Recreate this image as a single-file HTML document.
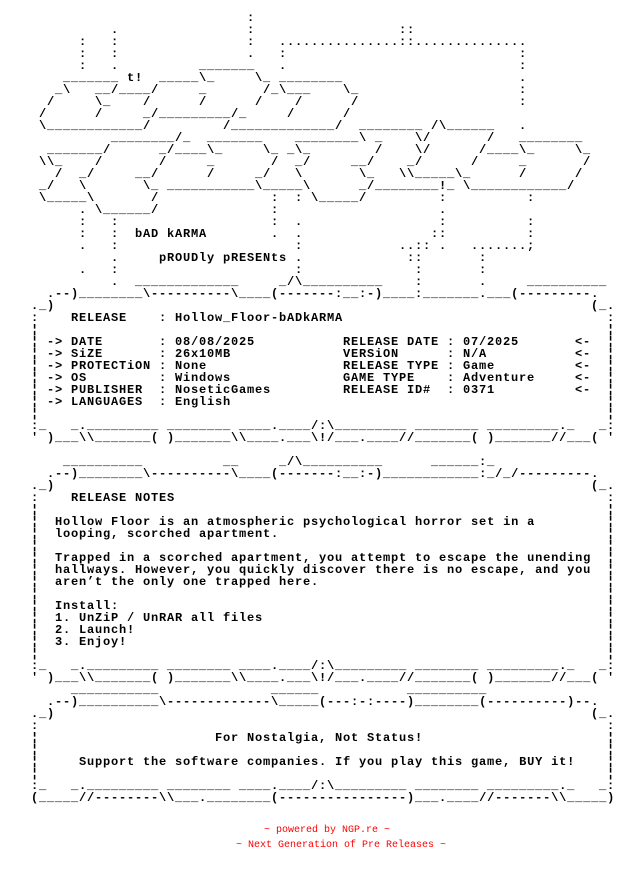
<!DOCTYPE html>
<html><head><meta charset="utf-8"><style>
html,body{margin:0;padding:0;background:#fff;}
#p{position:relative;width:624px;height:876px;overflow:hidden;background:#fff;}
#p i{position:absolute;font-style:normal;white-space:pre;font-family:"Liberation Mono",monospace;font-weight:bold;font-size:12px;line-height:12px;letter-spacing:0.8px;color:#000;}
#p .f{font-weight:normal;font-size:10px;letter-spacing:0;color:#f00;line-height:12px;}
</style></head><body><div id="p">
<i style="left:247px;top:12px">:</i>
<i style="left:111px;top:24px">.</i><i style="left:247px;top:24px">:</i><i style="left:399px;top:24px">::</i>
<i style="left:79px;top:36px">:</i><i style="left:111px;top:36px">:</i><i style="left:247px;top:36px">:</i><i style="left:279px;top:36px">...............::..............</i>
<i style="left:79px;top:48px">:</i><i style="left:111px;top:48px">:</i><i style="left:247px;top:48px">.</i><i style="left:279px;top:48px">:</i><i style="left:519px;top:48px">:</i>
<i style="left:79px;top:60px">:</i><i style="left:111px;top:60px">.</i><i style="left:199px;top:60px">_______</i><i style="left:279px;top:60px">.</i><i style="left:519px;top:60px">:</i>
<i style="left:63px;top:72px">_______</i><i style="left:127px;top:72px">t!</i><i style="left:159px;top:72px">_____\_</i><i style="left:255px;top:72px">\_</i><i style="left:279px;top:72px">________</i><i style="left:519px;top:72px">.</i>
<i style="left:55px;top:84px">_\</i><i style="left:95px;top:84px">__/____/</i><i style="left:199px;top:84px">_</i><i style="left:263px;top:84px">/_\___</i><i style="left:343px;top:84px">\_</i><i style="left:519px;top:84px">:</i>
<i style="left:47px;top:96px">/</i><i style="left:95px;top:96px">\_</i><i style="left:143px;top:96px">/</i><i style="left:199px;top:96px">/</i><i style="left:255px;top:96px">/</i><i style="left:295px;top:96px">/</i><i style="left:351px;top:96px">/</i><i style="left:519px;top:96px">:</i>
<i style="left:39px;top:108px">/</i><i style="left:95px;top:108px">/</i><i style="left:143px;top:108px">_/_________/_</i><i style="left:287px;top:108px">/</i><i style="left:343px;top:108px">/</i>
<i style="left:39px;top:120px">\____________/</i><i style="left:223px;top:120px">/_____________/</i><i style="left:359px;top:120px">________</i><i style="left:431px;top:120px">/\______</i><i style="left:519px;top:120px">.</i>
<i style="left:111px;top:132px">________/_</i><i style="left:207px;top:132px">_______</i><i style="left:295px;top:132px">________\ _</i><i style="left:415px;top:132px">\/</i><i style="left:487px;top:132px">/</i><i style="left:519px;top:132px">________</i>
<i style="left:47px;top:144px">_______/</i><i style="left:159px;top:144px">_/____\_</i><i style="left:263px;top:144px">\_ _\_</i><i style="left:375px;top:144px">/</i><i style="left:415px;top:144px">\/</i><i style="left:479px;top:144px">/____\_</i><i style="left:575px;top:144px">\_</i>
<i style="left:39px;top:156px">\\_</i><i style="left:95px;top:156px">/</i><i style="left:159px;top:156px">/</i><i style="left:207px;top:156px">_</i><i style="left:271px;top:156px">/</i><i style="left:295px;top:156px">_/</i><i style="left:351px;top:156px">__/</i><i style="left:407px;top:156px">_/</i><i style="left:471px;top:156px">/</i><i style="left:519px;top:156px">_</i><i style="left:583px;top:156px">/</i>
<i style="left:55px;top:168px">/</i><i style="left:79px;top:168px">_/</i><i style="left:135px;top:168px">__/</i><i style="left:207px;top:168px">/</i><i style="left:255px;top:168px">_/</i><i style="left:295px;top:168px">\</i><i style="left:359px;top:168px">\_</i><i style="left:399px;top:168px">\\_____\_</i><i style="left:519px;top:168px">/</i><i style="left:575px;top:168px">/</i>
<i style="left:39px;top:180px">_/</i><i style="left:79px;top:180px">\</i><i style="left:143px;top:180px">\_ ___________\_____\</i><i style="left:359px;top:180px">_/________!_ \____________/</i>
<i style="left:39px;top:192px">\_____\</i><i style="left:151px;top:192px">/</i><i style="left:271px;top:192px">:</i><i style="left:295px;top:192px">:</i><i style="left:311px;top:192px">\_____/</i><i style="left:439px;top:192px">:</i><i style="left:527px;top:192px">:</i>
<i style="left:79px;top:204px">.</i><i style="left:95px;top:204px">\______/</i><i style="left:271px;top:204px">:</i><i style="left:439px;top:204px">.</i>
<i style="left:79px;top:216px">:</i><i style="left:111px;top:216px">:</i><i style="left:271px;top:216px">:</i><i style="left:295px;top:216px">.</i><i style="left:439px;top:216px">:</i><i style="left:527px;top:216px">:</i>
<i style="left:79px;top:228px">:</i><i style="left:111px;top:228px">:</i><i style="left:135px;top:228px">bAD kARMA</i><i style="left:271px;top:228px">.</i><i style="left:295px;top:228px">.</i><i style="left:431px;top:228px">::</i><i style="left:527px;top:228px">:</i>
<i style="left:79px;top:240px">.</i><i style="left:111px;top:240px">:</i><i style="left:295px;top:240px">:</i><i style="left:399px;top:240px">..::</i><i style="left:439px;top:240px">.</i><i style="left:471px;top:240px">.....</i><i style="left:511px;top:240px">..;</i>
<i style="left:111px;top:252px">.</i><i style="left:159px;top:252px">pROUDly pRESENts</i><i style="left:295px;top:252px">.</i><i style="left:407px;top:252px">::</i><i style="left:479px;top:252px">:</i>
<i style="left:79px;top:264px">.</i><i style="left:111px;top:264px">:</i><i style="left:295px;top:264px">:</i><i style="left:415px;top:264px">:</i><i style="left:479px;top:264px">:</i>
<i style="left:111px;top:276px">.</i><i style="left:135px;top:276px">_____________</i><i style="left:279px;top:276px">_/\__________</i><i style="left:415px;top:276px">:</i><i style="left:479px;top:276px">.</i><i style="left:527px;top:276px">__________</i>
<i style="left:47px;top:288px">.--)________\----------\____(-------:__:-)____:_______.___(---------.</i>
<i style="left:31px;top:300px">._)</i><i style="left:591px;top:300px">(_.</i>
<i style="left:31px;top:312px">:</i><i style="left:71px;top:312px">RELEASE    : Hollow_Floor-bADkARMA</i><i style="left:607px;top:312px">:</i>
<i style="left:31px;top:324px">¦</i><i style="left:607px;top:324px">¦</i>
<i style="left:31px;top:336px">¦</i><i style="left:47px;top:336px">-> DATE       : 08/08/2025</i><i style="left:343px;top:336px">RELEASE DATE : 07/2025</i><i style="left:575px;top:336px">&lt;-</i><i style="left:607px;top:336px">¦</i>
<i style="left:31px;top:348px">¦</i><i style="left:47px;top:348px">-> SiZE       : 26x10MB</i><i style="left:343px;top:348px">VERSiON      : N/A</i><i style="left:575px;top:348px">&lt;-</i><i style="left:607px;top:348px">¦</i>
<i style="left:31px;top:360px">¦</i><i style="left:47px;top:360px">-> PROTECTiON : None</i><i style="left:343px;top:360px">RELEASE TYPE : Game</i><i style="left:575px;top:360px">&lt;-</i><i style="left:607px;top:360px">¦</i>
<i style="left:31px;top:372px">¦</i><i style="left:47px;top:372px">-> OS         : Windows</i><i style="left:343px;top:372px">GAME TYPE    : Adventure</i><i style="left:575px;top:372px">&lt;-</i><i style="left:607px;top:372px">¦</i>
<i style="left:31px;top:384px">¦</i><i style="left:47px;top:384px">-> PUBLISHER  : NoseticGames</i><i style="left:343px;top:384px">RELEASE ID#  : 0371</i><i style="left:575px;top:384px">&lt;-</i><i style="left:607px;top:384px">¦</i>
<i style="left:31px;top:396px">¦</i><i style="left:47px;top:396px">-> LANGUAGES  : English</i><i style="left:607px;top:396px">¦</i>
<i style="left:31px;top:408px">¦</i><i style="left:607px;top:408px">¦</i>
<i style="left:31px;top:420px">:_</i><i style="left:71px;top:420px">_._________ ________ ____.____/:\_________ ________ _________._</i><i style="left:599px;top:420px">_:</i>
<i style="left:31px;top:432px">'</i><i style="left:47px;top:432px">)___\\_______( )_______\\____.___\!/___.____//_______( )_______//___(</i><i style="left:607px;top:432px">'</i>
<i style="left:63px;top:456px">__________</i><i style="left:223px;top:456px">__</i><i style="left:279px;top:456px">_/\__________</i><i style="left:431px;top:456px">______:_</i>
<i style="left:47px;top:468px">.--)________\----------\____(-------:__:-)____________:_/_/---------.</i>
<i style="left:31px;top:480px">._)</i><i style="left:591px;top:480px">(_.</i>
<i style="left:31px;top:492px">:</i><i style="left:71px;top:492px">RELEASE NOTES</i><i style="left:607px;top:492px">:</i>
<i style="left:31px;top:504px">¦</i><i style="left:607px;top:504px">¦</i>
<i style="left:31px;top:516px">¦</i><i style="left:55px;top:516px">Hollow Floor is an atmospheric psychological horror set in a</i><i style="left:607px;top:516px">¦</i>
<i style="left:31px;top:528px">¦</i><i style="left:55px;top:528px">looping, scorched apartment.</i><i style="left:607px;top:528px">¦</i>
<i style="left:31px;top:540px">¦</i><i style="left:607px;top:540px">¦</i>
<i style="left:31px;top:552px">¦</i><i style="left:55px;top:552px">Trapped in a scorched apartment, you attempt to escape the unending</i><i style="left:607px;top:552px">¦</i>
<i style="left:31px;top:564px">¦</i><i style="left:55px;top:564px">hallways. However, you quickly discover there is no escape, and you</i><i style="left:607px;top:564px">¦</i>
<i style="left:31px;top:576px">¦</i><i style="left:55px;top:576px">aren’t the only one trapped here.</i><i style="left:607px;top:576px">¦</i>
<i style="left:31px;top:588px">¦</i><i style="left:607px;top:588px">¦</i>
<i style="left:31px;top:600px">¦</i><i style="left:55px;top:600px">Install:</i><i style="left:607px;top:600px">¦</i>
<i style="left:31px;top:612px">¦</i><i style="left:55px;top:612px">1. UnZiP / UnRAR all files</i><i style="left:607px;top:612px">¦</i>
<i style="left:31px;top:624px">¦</i><i style="left:55px;top:624px">2. Launch!</i><i style="left:607px;top:624px">¦</i>
<i style="left:31px;top:636px">¦</i><i style="left:55px;top:636px">3. Enjoy!</i><i style="left:607px;top:636px">¦</i>
<i style="left:31px;top:648px">¦</i><i style="left:607px;top:648px">¦</i>
<i style="left:31px;top:660px">:_</i><i style="left:71px;top:660px">_._________ ________ ____.____/:\_________ ________ _________._</i><i style="left:599px;top:660px">_:</i>
<i style="left:31px;top:672px">'</i><i style="left:47px;top:672px">)___\\_______( )_______\\____.___\!/___.____//_______( )_______//___(</i><i style="left:607px;top:672px">'</i>
<i style="left:71px;top:684px">___________</i><i style="left:271px;top:684px">______</i><i style="left:407px;top:684px">__________</i>
<i style="left:47px;top:696px">.--)__________\-------------\_____(---:-:----)________(----------)--.</i>
<i style="left:31px;top:708px">._)</i><i style="left:591px;top:708px">(_.</i>
<i style="left:31px;top:720px">:</i><i style="left:607px;top:720px">:</i>
<i style="left:31px;top:732px">¦</i><i style="left:215px;top:732px">For Nostalgia, Not Status!</i><i style="left:607px;top:732px">¦</i>
<i style="left:31px;top:744px">¦</i><i style="left:607px;top:744px">¦</i>
<i style="left:31px;top:756px">¦</i><i style="left:79px;top:756px">Support the software companies. If you play this game, BUY it!</i><i style="left:607px;top:756px">¦</i>
<i style="left:31px;top:768px">¦</i><i style="left:607px;top:768px">¦</i>
<i style="left:31px;top:780px">:_</i><i style="left:71px;top:780px">_._________ ________ ____.____/:\_________ ________ _________._</i><i style="left:599px;top:780px">_:</i>
<i style="left:31px;top:792px">(_____//--------\\___.________(----------------)___.____//-------\\_____)</i>
<i class="f" style="left:264px;top:825px">~ powered by NGP.re ~</i>
<i class="f" style="left:236px;top:840px">~ Next Generation of Pre Releases ~</i>
</div></body></html>
